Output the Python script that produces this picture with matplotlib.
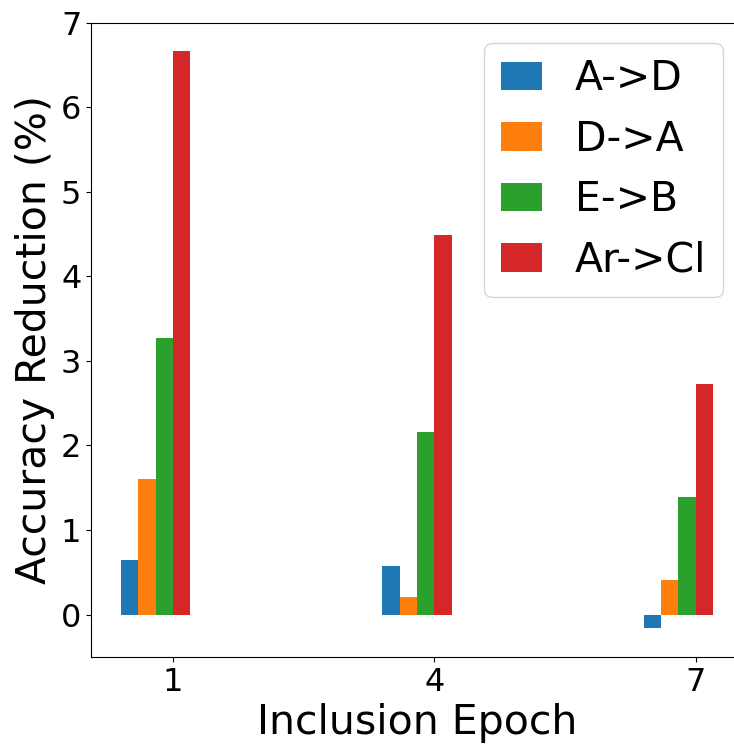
import numpy as np
import matplotlib
matplotlib.use("Agg")
import matplotlib.pyplot as plt

# Datos
epochs = [1, 4, 7]
series = ["A->D", "D->A", "E->B", "Ar->Cl"]
a_d = [0.65, 0.58, -0.16]
d_a = [1.60, 0.21, 0.41]
e_b = [3.27, 2.16, 1.39]
ar_cl = [6.66, 4.49, 2.73]
valores = [a_d, d_a, e_b, ar_cl]

colores = ["#1f77b4", "#ff7f0e", "#2ca02c", "#d62728"]
ancho = 0.2

fig = plt.figure(figsize=(7.34, 7.45), dpi=100)
ax = fig.add_axes([91 / 734, 88 / 745, (743 - 91) / 734, (657 - 22.5) / 745])

x = np.array(epochs, dtype=float)
for i, (nombre, vals) in enumerate(zip(series, valores)):
    ax.bar(x + (i - 3) * ancho, vals, width=ancho, align="edge",
           color=colores[i], label=nombre)

ax.set_xticks(epochs)
ax.set_xticklabels([str(e) for e in epochs])
ax.tick_params(axis="both", labelsize=23)
ax.set_xlabel("Inclusion Epoch", fontsize=29.5)
ax.set_ylabel("Accuracy Reduction (%)", fontsize=29.5)
ax.legend(loc="upper right", fontsize=29.5, handlelength=1.0)

fig.savefig("out.png", dpi=100)
